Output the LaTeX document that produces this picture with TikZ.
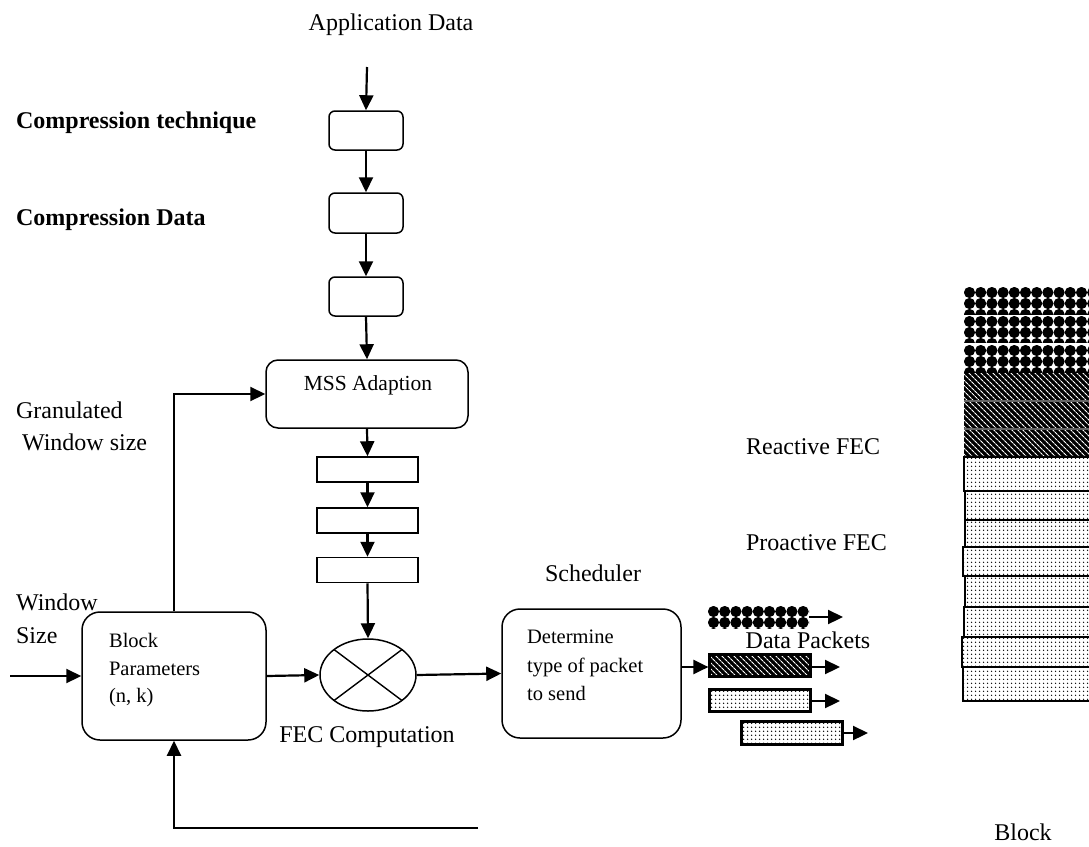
\documentclass[tikz,border=0pt]{standalone}
\usepackage{fontspec}
\setmainfont{Liberation Serif}
\usetikzlibrary{arrows.meta,shapes.geometric,patterns.meta,calc}
\newcommand\diafill[4]{%
  \begin{scope}
    \clip (#1,#2) rectangle (#3,#4);
    \fill[white] (#1,#2) rectangle (#3,#4);
    \foreach \i in {0,...,12}{
      \foreach \j in {0,...,3}{
        \fill[black] ({#1+5.5+\i*11.2},{#2+5.5+\j*11}) circle[radius=5.6];
      }
    }
  \end{scope}}
\begin{document}
\begin{tikzpicture}[x=1pt,y=-1pt,
  line width=2.2pt,
  arr/.style={-{Triangle[length=15pt,width=14pt]}},
  rbox/.style={draw, line width=1.5pt, rounded corners=6pt, inner sep=0pt},
  bigbox/.style={draw, line width=1.5pt, rounded corners=18pt, inner sep=0pt},
  sbox/.style={draw, line width=1.5pt, inner sep=0pt, minimum width=101pt, minimum height=25pt},
  lab/.style={font=\fontsize{24}{28}\selectfont, inner sep=0pt},
  blab/.style={font=\fontsize{24}{28}\selectfont\bfseries, inner sep=0pt},
  itxt/.style={font=\fontsize{20.5}{24}\selectfont, inner sep=0pt},
  dotfill/.style={preaction={fill=white}, pattern={Dots[distance=4pt, radius=0.9pt]}, pattern color=black},
  hatchfill/.style={preaction={fill=black}, pattern={Lines[angle=135, distance=4pt, line width=1.2pt]}, pattern color=white},
  pkt/.style={draw, line width=3pt, inner sep=0pt, minimum width=101pt, minimum height=22pt},
]
\clip (0,0) rectangle (1089,846);
\fill[white] (0,0) rectangle (1089,846);

% top chain
\node[lab, anchor=base] (appdata) at (391,30) {Application Data};
\coordinate (appin) at (367,67);
\node[rbox, minimum width=74pt, minimum height=39pt] (b1) at (366,130.5) {};
\node[rbox, minimum width=74pt, minimum height=40pt] (b2) at (366,213) {};
\node[rbox, minimum width=74pt, minimum height=39pt] (b3) at (366,296.5) {};
\node[blab, anchor=base west] (ct) at (15,128) {Compression technique};
\node[blab, anchor=base west] (cd) at (15,225) {Compression Data};

\node[draw, line width=1.5pt, rounded corners=12pt, minimum width=202pt, minimum height=68pt, inner sep=0pt] (mss) at (367,394) {};
\node[itxt, font=\fontsize{21.5}{24}\selectfont, anchor=base] (msst) at (368,390) {MSS Adaption};

\node[sbox] (r1) at (367.5,469.5) {};
\node[sbox] (r2) at (367.5,520.5) {};
\node[sbox] (r3) at (367.5,570) {};

\node[draw, ellipse, line width=1.5pt, minimum width=96pt, minimum height=72pt, inner sep=0pt] (fec) at (368,675) {};
\draw[line width=1.4pt] ($(fec.center)+(-34,-25.5)$) -- ($(fec.center)+(34,25.5)$);
\draw[line width=1.4pt] ($(fec.center)+(34,-25.5)$) -- ($(fec.center)+(-34,25.5)$);
\node[lab, anchor=base] (fect) at (367,742) {FEC Computation};

\draw[arr] (appin) -- (b1.north);
\draw[arr] (b1.south) -- (b2.north);
\draw[arr] (b2.south) -- (b3.north);
\draw[arr] (b3.south) -- (mss.north);
\draw[arr] (mss.south) -- (r1.north);
\draw[arr] (r1.south) -- (r2.north);
\draw[arr] (r2.south) -- (r3.north);
\draw[arr] (r3.south) -- (fec.north);

% block parameters
\node[bigbox, minimum width=184pt, minimum height=128pt] (blk) at (174,676) {};
\node[itxt, anchor=base west] (bt1) at (108,647) {Block};
\node[itxt, anchor=base west] (bt2) at (108,675) {Parameters};
\node[itxt, anchor=base west] (bt3) at (108,702) {(n, k)};
\node[lab, anchor=base west] (gw1) at (15,418) {Granulated};
\node[lab, anchor=base west] (gw2) at (21,450) {Window size};
\node[lab, anchor=base west] (ws1) at (15,610) {Window};
\node[lab, anchor=base west] (ws2) at (15,643) {Size};
\coordinate (win) at (10,676);
\draw[arr] (win) -- (blk.west);
\draw[arr] (blk.north) |- (mss.west);
\draw[arr] (blk.east) -- (fec.west);

% feedback
\coordinate (fb) at (478,828);
\draw[arr] (fb) -- (blk.south |- fb) -- (blk.south);

% scheduler
\node[bigbox, minimum width=179pt, minimum height=129pt] (sch) at (591.5,673.5) {};
\node[lab, anchor=base] (scht) at (593,581) {Scheduler};
\node[itxt, anchor=base west] (st1) at (526,643) {Determine};
\node[itxt, anchor=base west] (st2) at (526,672) {type of packet};
\node[itxt, anchor=base west] (st3) at (526,700) {to send};
\draw[arr] (fec.east) -- (sch.west);

% packets
\diafill{708}{606}{809}{628}
\coordinate (p1) at (758.5,617);
\node[pkt, hatchfill, minimum width=101pt, minimum height=22pt] (p2) at (759.5,665) {};
\node[pkt, dotfill, minimum width=101pt, minimum height=22pt] (p3) at (759.5,700) {};
\node[pkt, dotfill, minimum width=101pt, minimum height=23pt] (p4) at (791.5,732.5) {};
\coordinate (p1e) at (809,617);
\coordinate (a1) at (843,617);
\coordinate (a2) at (840,667);
\coordinate (a3) at (840,701);
\coordinate (a4) at (868,733);
\draw[arr] (p1e) -- (a1);
\draw[arr] (p2.east |- a2) -- (a2);
\draw[arr] (p3.east |- a3) -- (a3);
\draw[arr] (p4.east |- a4) -- (a4);
\draw[arr] (sch.east |- a2) -- (p2.west |- a2);
\node[lab, anchor=base] (dp) at (808,648) {Data Packets};

\node[lab, anchor=base west] (rf) at (745,454) {Reactive FEC};
\node[lab, anchor=base west] (pf) at (745,550) {Proactive FEC};
\node[lab, anchor=base] (blkt) at (1023,840) {Block};

% block stack
\diafill{964}{287}{1095}{314}
\diafill{964}{316}{1095}{342}
\diafill{964}{345}{1095}{373}
\fill[hatchfill] (964,373) rectangle (1095,400);
\fill[hatchfill] (964,402) rectangle (1095,428);
\fill[hatchfill] (964,430) rectangle (1095,456);
\draw[line width=1.2pt, black!60] (964,401) -- (1095,401) (964,429) -- (1095,429);
\draw[dotfill, line width=1.8pt] (964,457) rectangle (1095,491);
\draw[dotfill, line width=1.8pt] (965,491) rectangle (1095,520);
\draw[dotfill, line width=1.8pt] (965,520) rectangle (1095,547);
\draw[dotfill, line width=2.6pt] (963,547) rectangle (1095,576);
\draw[dotfill, line width=1.8pt] (965,576) rectangle (1095,607);
\draw[dotfill, line width=2.6pt] (964,607) rectangle (1095,637);
\draw[dotfill, line width=2.6pt] (962,637) rectangle (1095,667);
\draw[dotfill, line width=1.8pt] (963,667) rectangle (1095,701);
\end{tikzpicture}
\end{document}
